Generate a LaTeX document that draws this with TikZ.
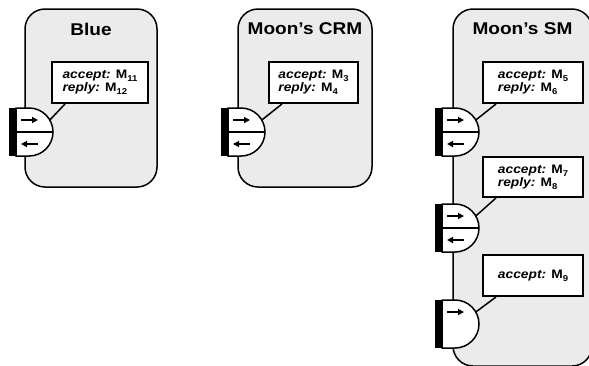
\documentclass[tikz,border=0pt]{standalone}
\usepackage{fontspec}
\setmainfont{Liberation Sans}[FakeStretch=1.12]
\usetikzlibrary{arrows.meta, positioning, calc}
\definecolor{cpanel}{HTML}{EBEBEB}
\tikzset{
  every picture/.style={line width=1.5pt},
  unit/.style={draw, fill=cpanel, rounded corners=20pt, inner sep=0pt},
  title/.style={font=\fontsize{17}{18}\selectfont\bfseries, inner sep=0pt},
  msgbox/.style={draw, fill=white, line width=2pt, align=left, inner sep=0pt, font=\fontsize{12.3}{13}\selectfont\bfseries},
  flow/.style={-{Triangle[length=6pt, width=6pt]}, line width=1.3pt},
}
\newcommand{\msg}[1]{M\raisebox{-0.5ex}{\fontsize{8.5}{8.5}\selectfont #1}}

\begin{document}
\begin{tikzpicture}[x=1pt, y=-1pt]
  \useasboundingbox (0,0) rectangle (589,365);
  % components
  \node[unit, minimum width=132pt, minimum height=178pt] (blue) at (91,98) {};
  \node[unit, minimum width=134pt, minimum height=178pt] (crm) at (305,98) {};
  \node[unit, minimum width=139pt, minimum height=357pt] (sm) at (522.5,187.5) {};
  \node[title, below=14pt of blue.north] {Blue};
  \node[title, below=14pt of crm.north] {Moon’s CRM};
  \node[title, below=14pt of sm.north] {Moon’s SM};
  % interface labels
  \node[msgbox, minimum width=96pt, minimum height=41pt] (blab) at (100,82.5) {\textit{accept:} \msg{11}\\\textit{reply:} \msg{12}};
  \node[msgbox, minimum width=89pt, minimum height=41pt] (clab) at (313.5,82.5) {\textit{accept:} \msg{3}\\\textit{reply:} \msg{4}};
  \node[msgbox, minimum width=100pt, minimum height=41pt] (s1lab) at (533,82.5) {\textit{accept:} \msg{5}\\\textit{reply:} \msg{6}};
  \node[msgbox, minimum width=100pt, minimum height=40pt] (s2lab) at (533,177) {\textit{accept:} \msg{7}\\\textit{reply:} \msg{8}};
  \node[msgbox, minimum width=100pt, minimum height=41pt] (s3lab) at (533,275.5) {\textit{accept:} \msg{9}};
  % ports
  \foreach \n/\px/\py/\lab/\two in {pb/9/108/blab/1, pc/221/108/clab/1, ps1/435/108/s1lab/1, ps2/435/204/s2lab/1, ps3/435/300/s3lab/0} {
    \fill (\px,\py) rectangle ++(7,48);
    \draw[fill=white] (\px+7,\py) -- ++(13,0) arc[start angle=-90, end angle=90, radius=24] -- ++(-13,0) -- cycle;
    \draw[flow] (\px+12,\py+12) -- ++(17,0);
    \ifnum\two=1
      \draw (\px+7,\py+24) -- ++(37,0);
      \draw[flow] (\px+29,\py+36) -- ++(-17,0);
    \fi
    \coordinate (\n) at (\px+40.8,\py+12);
    \draw (\n) -- ($(\lab.south west)+(14,0)$);
  }
\end{tikzpicture}
\end{document}
